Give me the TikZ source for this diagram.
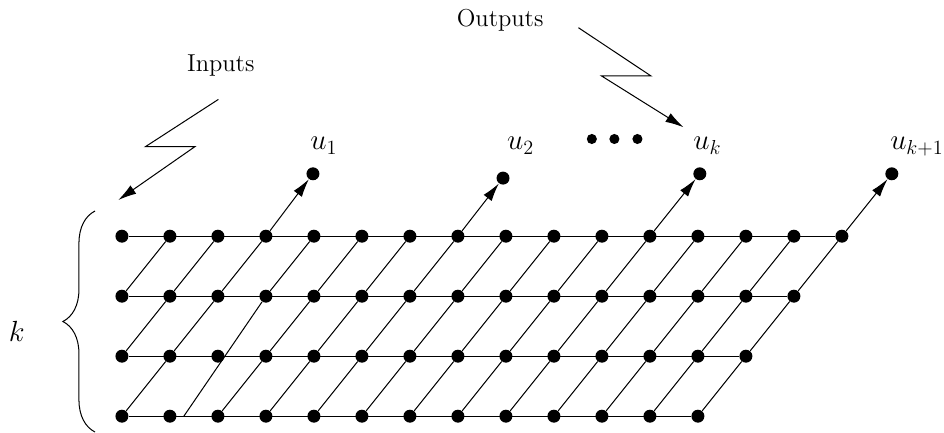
\documentclass[tikz,border=0pt]{standalone}
\usepackage{tikz}
\usetikzlibrary{positioning}
\usetikzlibrary{arrows.meta}
\usetikzlibrary{calc}
\usetikzlibrary{decorations.pathreplacing}

\begin{document}
\begin{tikzpicture}[
        every node/.style={font=\fontsize{14.5}{17}\selectfont},
        dot/.style={circle, fill=black, inner sep=0pt, minimum size=0.27cm},
        smalldot/.style={circle, fill=black, inner sep=0pt, minimum size=0.21cm},
        link/.style={line width=0.6pt, draw=black},
        arrow/.style={-{Latex[length=3.8mm, width=2.1mm]}, line width=0.6pt, draw=black},
        lbl/.style={font=\fontsize{17}{20}\selectfont, anchor=base west, inner sep=0pt}
    ]

        \useasboundingbox (0,0) rectangle (19.667,9.021);

        % -------------------------------------------------
        % 1. Rejilla de nodos
        % -------------------------------------------------
        \foreach \r/\y in {0/4.10, 1/2.85, 2/1.60, 3/0.35} {
            \pgfmathtruncatemacro\last{15-\r}
            \foreach \c in {0,...,\last} {
                \node[dot] (n-\r-\c) at (2.54+\c, \y) {};
            }
            \draw[link] (n-\r-0) -- (n-\r-\last);
        }

        % Diagonales (la segunda desde abajo va desplazada)
        \foreach \r in {1,2,3} {
            \pgfmathtruncatemacro\last{15-\r}
            \pgfmathtruncatemacro\up{\r-1}
            \foreach \c in {0,...,\last} {
                \pgfmathtruncatemacro\nc{\c+1}
                \pgfmathtruncatemacro\skipit{and(\r+\c==4, \r>1)}
                \ifnum\skipit=0
                    \draw[link] (n-\r-\c) -- (n-\up-\nc);
                \fi
            }
        }
        \coordinate (b-off) at ($(n-3-1)!0.29!(n-3-2)$);
        \draw[link] (b-off) -- (n-1-3);

        % -------------------------------------------------
        % 2. Salidas
        % -------------------------------------------------
        \foreach \i/\c/\dx/\dy in {1/3/0.98/1.30, 2/7/0.94/1.21, 3/11/1.04/1.30, 4/15/1.04/1.30} {
            \node[dot] (o-\i) at ($(n-0-\c)+(\dx,\dy)$) {};
            \draw[arrow] (n-0-\c) -- (o-\i);
        }

        \node[lbl] (u-1) at (6.46,5.90) {$u_1$};
        \node[lbl] (u-2) at (10.56,5.90) {$u_2$};
        \node[lbl] (u-3) at (14.44,5.90) {$u_k$};
        \node[lbl] (u-4) at (18.54,5.90) {$u_{k+1}$};

        \foreach \i/\x in {1/12.33, 2/12.80, 3/13.28} {
            \node[smalldot] (e-\i) at (\x,6.125) {};
        }

        % -------------------------------------------------
        % 3. Entradas y salidas (flechas en zigzag)
        % -------------------------------------------------
        \node[anchor=base] (inputs) at (4.60,7.54) {Inputs};
        \coordinate (in-s) at (4.55,6.95);
        \coordinate (in-1) at (3.03,5.965);
        \coordinate (in-2) at (4.06,5.965);
        \coordinate (in-e) at (2.465,4.854);
        \draw[arrow] (in-s) -- (in-1) -- (in-2) -- (in-e);

        \node[anchor=base] (outputs) at (10.42,8.46) {Outputs};
        \coordinate (out-s) at (12.05,8.444);
        \coordinate (out-1) at (13.56,7.44);
        \coordinate (out-2) at (12.53,7.44);
        \coordinate (out-e) at (14.24,6.37);
        \draw[arrow] (out-s) -- (out-1) -- (out-2) -- (out-e);

        % -------------------------------------------------
        % 4. Llave k
        % -------------------------------------------------
        \draw[link, decorate, decoration={brace, amplitude=0.67cm}] (1.98,0.02) -- (1.98,4.625);
        \node[lbl, anchor=base] (k) at (0.35,1.90) {$k$};

    \end{tikzpicture}
\end{document}
